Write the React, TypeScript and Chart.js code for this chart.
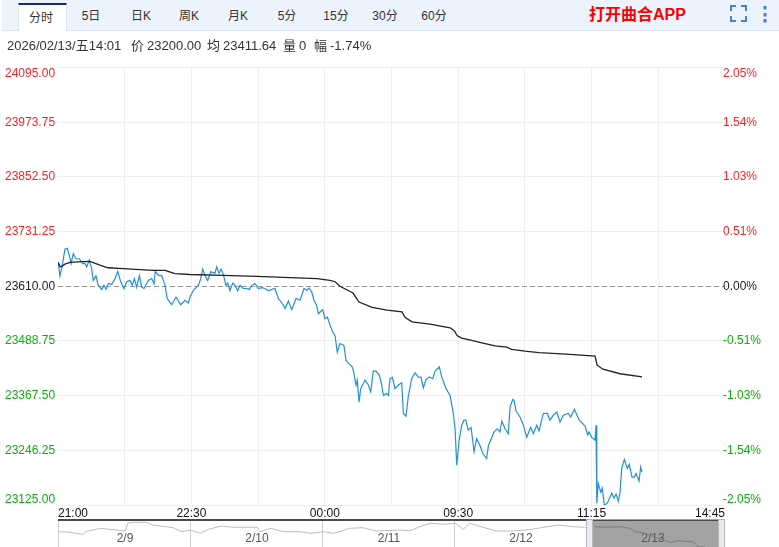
import { useEffect, useRef } from "react";
import { Chart, registerables } from "chart.js";

Chart.register(...registerables);

const FONT = "Arial, 'Liberation Sans', 'Noto Sans CJK SC', sans-serif";
const UP = "#ff1f1f";
const DOWN = "#0cae0c";

const tabs = ["分时", "5日", "日K", "周K", "月K", "5分", "15分", "30分", "60分"];
const tabCenters = [41, 91, 141, 189, 238, 287, 336, 385, 434];

// session minutes from the 21:00 open
const sessionTicks = [0, 45, 90, 135, 180, 225, 270, 315, 360, 405, 450];
const timeLabels: Record<number, string> = { 0: "21:00", 90: "22:30", 180: "00:00", 270: "09:30", 360: "11:15", 450: "14:45" };

const priceTicks = [24095, 23973.75, 23852.5, 23731.25, 23610, 23488.75, 23367.5, 23246.25, 23125];
const pctLabels = ["2.05%", "1.54%", "1.03%", "0.51%", "0.00%", "-0.51%", "-1.03%", "-1.54%", "-2.05%"];
const PREV_CLOSE = 23610;

const priceTimes = [
  0.2, 1.3, 2.5, 4.7, 6.3, 7.6, 8.8, 10.3, 12.1, 14.4, 16.7, 18.2, 19.4, 21.1, 22.7, 23.8, 25.6, 27.2, 29.5, 31.0, 32.4, 34.0, 36.2, 38.5, 40.3, 42.3, 44.5, 46.4, 48.6, 50.1, 51.5, 53.1, 54.9, 56.5, 58.0, 60.9, 63.2, 64.8, 65.6, 67.7, 70.0, 72.2, 73.7, 76.7, 79.6, 82.8, 85.7, 87.9,
  89.1, 91.3, 94.7, 96.3, 97.6, 99.2, 101.0, 103.0, 105.9, 107.1, 108.6, 110.0, 111.5, 113.3, 114.5, 116.0, 117.9, 119.4, 121.2, 122.8, 125.0, 127.3, 129.1, 130.7, 132.9, 135.2, 137.5, 139.7, 141.9, 144.2, 146.4, 148.6, 150.9, 153.2, 155.4, 157.7, 160.6, 163.3, 166.0, 167.8, 169.5, 171.2, 172.7, 174.5, 175.6,
  176.8, 178.6, 180.1, 181.7, 183.5, 185.3, 186.9, 188.4, 190.2, 192.9, 194.3, 195.9, 198.2, 199.2, 201.1, 201.9, 203.1, 204.2, 207.1, 209.4, 211.0, 212.7, 214.6, 216.8, 218.4, 219.5, 221.8, 222.9, 224.0, 225.6, 227.4, 229.6, 231.9, 233.0, 234.8, 236.3, 238.6, 240.9, 243.1, 244.9, 246.5, 248.3, 250.5, 252.8, 254.4, 257.3, 258.9, 261.8, 264.5, 266.7, 267.9, 269.0, 270.6, 272.4, 273.9, 275.1, 276.8, 278.7, 280.7, 282.5, 284.7, 286.6, 289.2, 290.4, 294.2, 296.4, 298.2, 299.4, 301.6, 303.8, 305.0, 306.8, 307.7, 309.0, 311.7, 314.0, 316.2, 318.9, 320.7, 323.0, 324.5, 327.4, 330.1, 331.9, 334.2, 336.5, 338.7, 340.9, 344.3, 345.9, 348.4, 351.7, 355.6, 357.4, 358.3, 360.1, 362.3, 363.0, 363.5, 364.5, 366.2, 367.2, 368.6, 370.6, 373.6, 375.1, 376.5, 378.0, 379.2, 380.3, 382.1, 384.1, 385.4, 387.3, 388.8, 390.0, 392.0, 393.1, 394.0,
];
const prices = [
  23663, 23633, 23649, 23692, 23694, 23679, 23660, 23682, 23671, 23671, 23660, 23660, 23653, 23668, 23649, 23623, 23633, 23612, 23603, 23612, 23603, 23616, 23614, 23627, 23643, 23620, 23605, 23620, 23623, 23612, 23627, 23608, 23633, 23608, 23605, 23623, 23627, 23616, 23643, 23634, 23633, 23612, 23583, 23569, 23586, 23569, 23579, 23573,
  23586, 23601, 23612, 23627, 23648, 23634, 23623, 23642, 23639, 23653, 23639, 23648, 23637, 23612, 23617, 23600, 23617, 23612, 23600, 23612, 23605, 23605, 23603, 23612, 23616, 23605, 23607, 23605, 23600, 23603, 23605, 23583, 23574, 23561, 23577, 23558, 23583, 23579, 23605, 23601, 23606, 23597, 23579, 23568, 23549,
  23553, 23558, 23538, 23542, 23524, 23509, 23501, 23464, 23483, 23479, 23446, 23439, 23433, 23424, 23391, 23402, 23353, 23383, 23402, 23391, 23376, 23422, 23422, 23413, 23391, 23368, 23372, 23368, 23405, 23408, 23383, 23391, 23396, 23328, 23322, 23365, 23405, 23418, 23409, 23408, 23385, 23403, 23409, 23405, 23422, 23431, 23409, 23383, 23368, 23328, 23294, 23213, 23269, 23302, 23313, 23313, 23291, 23297, 23243, 23272, 23257, 23239, 23228, 23257, 23287, 23294, 23287, 23311, 23294, 23283, 23342, 23359, 23357, 23334, 23320, 23302, 23275, 23297, 23283, 23302, 23289, 23328, 23328, 23313, 23324, 23331, 23309, 23324, 23328, 23320, 23337, 23313, 23300, 23280, 23287, 23275, 23269, 23302, 23129, 23173, 23153, 23162, 23125, 23129, 23151, 23140, 23149, 23133, 23153, 23206, 23226, 23206, 23215, 23187, 23187, 23195, 23178, 23209, 23198,
];

const avgTimes = [0.2, 1.3, 2.0, 4.7, 8.1, 13.5, 21.6, 28.3, 33.7, 43.9, 64.1, 72.2, 78.9, 89.1, 111.3, 134.3, 156.5, 174.7, 183.5, 186.9, 190.2, 199.0, 203.1, 211.9, 222.0, 232.1, 234.1, 238.8, 251.0, 264.5, 267.2, 269.4, 272.4, 279.1, 286.7, 294.8, 302.7, 306.1, 315.1, 324.5, 345.4, 362.3, 363.7, 367.7, 379.2, 394.0];
const avgPrices = [23663, 23654, 23653, 23659, 23663, 23664, 23665, 23657, 23651, 23649, 23645, 23645, 23638, 23636, 23634, 23632, 23629, 23627, 23623, 23620, 23610, 23595, 23575, 23563, 23557, 23553, 23541, 23531, 23526, 23518, 23512, 23500, 23495, 23490, 23484, 23478, 23475, 23470, 23466, 23463, 23459, 23455, 23435, 23426, 23416, 23409];

// navigator strip, x is days since the first session
const navDays = ["2/9", "2/10", "2/11", "2/12", "2/13"];
const navTimes = [0.0, 0.07, 0.19, 0.21, 0.32, 0.44, 0.51, 0.53, 0.57, 0.67, 0.72, 0.82, 0.87, 0.94, 1.0, 1.08, 1.14, 1.24, 1.33, 1.51, 1.53, 1.61, 1.71, 1.83, 1.91, 2.01, 2.09, 2.21, 2.31, 2.41, 2.59, 2.67, 2.74, 2.82, 2.92, 3.01, 3.07, 3.12, 3.22, 3.32, 3.42, 3.55, 3.68, 3.79, 3.9, 3.99, 4.06, 4.16, 4.26, 4.33, 4.38, 4.43, 4.59, 4.64, 4.69, 4.81, 4.85, 4.9];
const navPrices = [23493, 23485, 23423, 23493, 23585, 23539, 23512, 23728, 23747, 23747, 23674, 23628, 23601, 23493, 23539, 23450, 23558, 23647, 23612, 23612, 23493, 23585, 23493, 23493, 23450, 23493, 23450, 23585, 23601, 23512, 23539, 23520, 23628, 23720, 23693, 23720, 23558, 23720, 23612, 23512, 23512, 23539, 23612, 23674, 23628, 23612, 23628, 23612, 23628, 23585, 23493, 23466, 23269, 23196, 23250, 23223, 23088, 23080];
const NAV_MAX = 5.053;
const SEL_START = 4;

const infoItems: [number, string][] = [
  [7, "2026/02/13/五14:01"],
  [131, "价"],
  [147, "23200.00"],
  [207, "均"],
  [223, "23411.64"],
  [283, "量"],
  [299, "0"],
  [314, "幅"],
  [330, "-1.74%"],
];

const tickColor = (v: number) => (v > PREV_CLOSE ? UP : v < PREV_CLOSE ? DOWN : "#222");

// labels on both sides: first and last sit inside the plot height
const sideLabels = {
  id: "sideLabels",
  afterDraw(chart: any) {
    const { ctx, scales } = chart;
    ctx.save();
    ctx.font = `12px ${FONT}`;
    priceTicks.forEach((v, i) => {
      const last = i === priceTicks.length - 1;
      const y = scales.y.getPixelForValue(v);
      ctx.textBaseline = i === 0 ? "top" : last ? "bottom" : "middle";
      ctx.fillStyle = tickColor(v);
      const ty = last ? y + 1 : y;
      ctx.textAlign = "left";
      ctx.fillText(v.toFixed(2), 5, ty);
      ctx.textAlign = "right";
      ctx.fillText(pctLabels[i], i > 4 ? 761 : 757, ty);
    });
    ctx.restore();
  },
};

const navDecor = {
  id: "navDecor",
  beforeDatasetsDraw(chart: any) {
    const { ctx, scales, chartArea } = chart;
    const x0 = scales.x.getPixelForValue(SEL_START);
    ctx.save();
    ctx.fillStyle = "#a3a3a3";
    ctx.fillRect(x0, chartArea.top, chartArea.right - x0, chartArea.bottom - chartArea.top);
    ctx.font = `12px ${FONT}`;
    ctx.fillStyle = "#555";
    ctx.textAlign = "center";
    ctx.textBaseline = "middle";
    navDays.forEach((d, i) => ctx.fillText(d, scales.x.getPixelForValue(i + 0.5) + 1, 20));
    ctx.restore();
  },
  afterDraw(chart: any) {
    const { ctx, scales, chartArea } = chart;
    const x0 = scales.x.getPixelForValue(SEL_START);
    ctx.save();
    ctx.fillStyle = "#4a4a4a";
    ctx.fillRect(chartArea.left, 0, x0 - chartArea.left, 2);
    ctx.fillRect(x0, 1, chartArea.right - x0, 1);
    ctx.fillStyle = "#e9e9ee";
    ctx.strokeStyle = "#b8b8c0";
    [x0, chartArea.right - 7].forEach((x) => {
      ctx.fillRect(x, 0, 7, 28);
      ctx.strokeRect(x + 0.5, 0.5, 6, 28);
    });
    ctx.restore();
  },
};

export default function App() {
  const mainRef = useRef<HTMLCanvasElement | null>(null);
  const navRef = useRef<HTMLCanvasElement | null>(null);

  useEffect(() => {
    if (!mainRef.current || !navRef.current) return;

    const main = new Chart(mainRef.current, {
      type: "line",
      data: {
        datasets: [
          {
            data: avgTimes.map((x, i) => ({ x, y: avgPrices[i] })),
            borderColor: "#222222",
            borderWidth: 1.3,
            pointRadius: 0,
          },
          {
            data: priceTimes.map((x, i) => ({ x, y: prices[i] })),
            borderColor: "#2490d8",
            borderWidth: 1.2,
            pointRadius: 0,
          },
        ],
      },
      options: {
        animation: false,
        responsive: false,
        devicePixelRatio: 1,
        layout: { padding: { left: 58, right: 54, top: 67.5, bottom: 28 } },
        plugins: { legend: { display: false }, tooltip: { enabled: false } },
        scales: {
          x: {
            type: "linear",
            min: 0,
            max: 450,
            afterBuildTicks: (s: any) => {
              s.ticks = sessionTicks.map((value) => ({ value }));
            },
            afterFit: (s: any) => {
              s.height = 14;
            },
            grid: {
              drawTicks: false,
              color: (c: any) => (c.tick && c.tick.value > 0 && c.tick.value < 450 ? "#eeeeee" : "transparent"),
            },
            border: { display: false },
            ticks: {
              align: "inner",
              autoSkip: false,
              maxRotation: 0,
              padding: 1,
              color: "#111",
              font: { family: FONT, size: 12 },
              callback: (v: any) => timeLabels[v] ?? "",
            },
          },
          y: {
            type: "linear",
            min: 23125,
            max: 24095,
            afterBuildTicks: (s: any) => {
              s.ticks = priceTicks.map((value) => ({ value }));
            },
            afterFit: (s: any) => {
              s.width = 0;
            },
            grid: {
              drawTicks: false,
              color: (c: any) => (c.tick && c.tick.value === PREV_CLOSE ? "#999999" : "#eeeeee"),
            },
            border: {
              display: false,
              dash: (c: any) => (c.tick && c.tick.value === PREV_CLOSE ? [5, 3] : []),
            },
            ticks: { display: false },
          },
        },
      } as any,
      plugins: [sideLabels],
    });

    const nav = new Chart(navRef.current, {
      type: "line",
      data: {
        datasets: [
          {
            data: navTimes.map((x, i) => ({ x, y: navPrices[i] })),
            borderColor: "#bdbdbd",
            borderWidth: 1,
            pointRadius: 0,
            segment: {
              borderColor: (c: any) => (c.p0.parsed.x >= SEL_START ? "#7c7c7c" : "#bdbdbd"),
            },
          },
        ],
      },
      options: {
        animation: false,
        responsive: false,
        devicePixelRatio: 1,
        layout: { padding: 0 },
        plugins: { legend: { display: false }, tooltip: { enabled: false } },
        scales: {
          x: {
            type: "linear",
            min: 0,
            max: NAV_MAX,
            display: true,
            afterBuildTicks: (s: any) => {
              s.ticks = [0, 1, 2, 3, 4].map((value) => ({ value }));
            },
            afterFit: (s: any) => {
              s.height = 0;
            },
            grid: { drawTicks: false, color: "#d0d0d0" },
            border: { display: false },
            ticks: { display: false },
          },
          y: {
            type: "linear",
            min: 23080,
            max: 23836,
            display: false,
          },
        },
      } as any,
      plugins: [navDecor],
    });

    return () => {
      main.destroy();
      nav.destroy();
    };
  }, []);

  return (
    <div
      style={{
        position: "absolute",
        left: 0,
        top: 0,
        width: 779,
        height: 547,
        overflow: "hidden",
        background: "#fff",
        fontFamily: FONT,
        color: "#333",
      }}
    >
      <canvas ref={mainRef} width={779} height={547} style={{ position: "absolute", left: 0, top: 0 }} />
      <canvas ref={navRef} width={667} height={28} style={{ position: "absolute", left: 58, top: 519 }} />

      {/* toolbar */}
      <div
        style={{
          position: "absolute",
          left: 2,
          top: 0,
          width: 777,
          height: 30,
          background: "#ecf3fd",
          borderBottom: "1px solid #d9e3f3",
        }}
      />
      <div
        style={{
          position: "absolute",
          left: 18,
          top: 3,
          width: 49,
          height: 28,
          boxSizing: "border-box",
          background: "#fff",
          borderTop: "2px solid #0c2a86",
          borderLeft: "1px solid #d9e3f3",
          borderRight: "1px solid #d9e3f3",
        }}
      />
      {tabs.map((t, i) => (
        <div
          key={t}
          style={{
            position: "absolute",
            left: tabCenters[i] - 30,
            width: 60,
            top: i === 0 ? 10 : 8,
            lineHeight: "16px",
            textAlign: "center",
            fontSize: 12,
            fontFamily: "Arial, 'Liberation Sans', 'Noto Sans CJK SC'",
            color: "#333",
          }}
        >
          {t}
        </div>
      ))}
      <div
        style={{
          position: "absolute",
          left: 589,
          top: 6,
          lineHeight: "18px",
          fontSize: 16,
          fontWeight: 700,
          color: "#fb0000",
          whiteSpace: "nowrap",
        }}
      >
        打开曲合APP
      </div>

      {/* fullscreen icon and menu dots */}
      <svg width={50} height={30} style={{ position: "absolute", left: 729, top: 0 }}>
        <path d="M2 12V7H7M12 7H17V12M17 17V22H12M7 22H2V17" transform="translate(0,-1)" fill="none" stroke="#4a80d0" strokeWidth={2} />
        <rect x={34.5} y={6} width={3} height={3.5} fill="#4a80d0" />
        <rect x={34.5} y={13} width={3} height={3.5} fill="#4a80d0" />
        <rect x={34.5} y={19} width={3} height={3.5} fill="#4a80d0" />
      </svg>

      {/* readout row */}
      {infoItems.map(([left, text]) => (
        <div
          key={text}
          style={{
            position: "absolute",
            left,
            top: 37,
            lineHeight: "17px",
            fontSize: 13,
            color: "#333",
            whiteSpace: "nowrap",
          }}
        >
          {text}
        </div>
      ))}
    </div>
  );
}
